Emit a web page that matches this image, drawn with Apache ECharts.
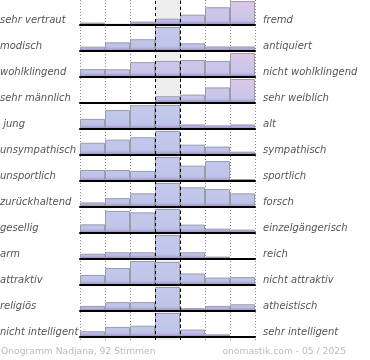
<!DOCTYPE html>
<html><head><meta charset="utf-8">
<script src="https://cdn.jsdelivr.net/npm/echarts@6/dist/echarts.min.js"></script>
<style>html,body{margin:0;padding:0;background:#fff}#c{width:370px;height:360px}</style>
</head><body><div id="c"></div>
<script>
const leftLabels = ['sehr vertraut','modisch','wohlklingend','sehr männlich',' jung','unsympathisch','unsportlich','zurückhaltend','gesellig','arm','attraktiv','religiös','nicht intelligent'];
const rightLabels = ['fremd','antiquiert','nicht wohlklingend','sehr weiblich','alt','sympathisch','sportlich','forsch','einzelgängerisch','reich','nicht attraktiv','atheistisch','sehr intelligent'];
const columns = ['1','2','3','4','5','6','7'];
const r0 = [10, 5, 14, 26, 43, 74, 100];
const r1 = [18, 36, 49, 100, 32, 19, 19];
const r2 = [33, 32, 62, 67, 71, 67, 100];
const r3 = [0, 0, 0, 28, 35, 65, 100];
const r4 = [42, 79, 99, 100, 19, 15, 19];
const r5 = [51, 64, 74, 100, 43, 35, 14];
const r6 = [46, 46, 42, 100, 64, 83, 8];
const r7 = [19, 37, 57, 100, 82, 75, 57];
const r8 = [36, 92, 86, 100, 35, 18, 14];
const r9 = [22, 28, 28, 100, 28, 10, 0];
const r10 = [42, 71, 100, 96, 48, 31, 33];
const r11 = [21, 37, 37, 100, 12, 21, 28];
const r12 = [24, 42, 47, 100, 31, 11, 0];
const rows = [r0,r1,r2,r3,r4,r5,r6,r7,r8,r9,r10,r11,r12];
const footerLeft = 'Onogramm Nadjana, 92 Stimmen';
const footerRight = 'onomastik.com - 05 / 2025';

// tint styling: 0 blue, 1 lavender, 2 pink
const tint = {0:[0,0,0,0,1,1,2], 2:[1,1,1,1,1,1,2], 3:[0,0,0,0,1,1,2]};
const topCols = ['#c3caec', '#d0c7ea', '#dfc7e8'];

const PL = 80, PW = 175, RH = 24, B0 = 25, STEP = 26;
const chart = echarts.init(document.getElementById('c'), null, {renderer:'canvas'});
const grids = [], xAxes = [], yAxes = [], series = [], graphics = [];
rows.forEach((vals, i) => {
  const base = B0 + STEP * i, top = base - RH;
  grids.push({left: PL, top: top, width: PW, height: RH});
  xAxes.push({type:'category', gridIndex:i, data:columns, axisLine:{show:true, lineStyle:{color:'#000', width:2}}, axisTick:{show:false}, axisLabel:{show:false}, splitLine:{show:false}, z:6});
  yAxes.push({type:'value', gridIndex:i, min:0, max:100, show:false});
  const tr = tint[i] || [0,0,0,0,0,0,0];
  series.push({
    type:'bar', xAxisIndex:i, yAxisIndex:i, barCategoryGap:'0%', z:3, silent:true,
    data: vals.map((v, j) => ({value:v, itemStyle:{
      color: new echarts.graphic.LinearGradient(0, top, 0, base, [
        {offset:0, color: topCols[tr[j]]},
        {offset:0.8, color: tr[j] ? '#c6c6ea' : '#bfc5e9'},
        {offset:0.88, color:'#b6b2df'},
        {offset:1, color:'#9484c2'}], true),
      borderColor:'#9c9ca4', borderWidth:1}}))
  });
  graphics.push({type:'text', left:0, top: base - 10, style:{text:leftLabels[i], font:'italic 10px "DejaVu Sans"', fill:'#555'}});
  graphics.push({type:'text', left:263, top: base - 10, style:{text:rightLabels[i], font:'italic 10px "DejaVu Sans"', fill:'#555'}});
});
// background grid for column guides
const bg = rows.length;
grids.push({left: PL, top: 0, width: PW, height: 340});
xAxes.push({type:'value', gridIndex:bg, min:0, max:7, interval:1, axisLine:{show:false}, axisTick:{show:false}, axisLabel:{show:false}, splitLine:{show:true, lineStyle:{color:'#888', type:[1,2], width:1}}});
yAxes.push({type:'value', gridIndex:bg, min:0, max:1, show:false});
series.push({type:'line', xAxisIndex:bg, yAxisIndex:bg, data:[], z:0, silent:true,
  markArea:{silent:true, itemStyle:{color:'#eeeeee'}, data:[[{xAxis:3},{xAxis:4}]]}});
series.push({type:'line', xAxisIndex:bg, yAxisIndex:bg, data:[], z:8, silent:true,
  markLine:{silent:true, symbol:'none', label:{show:false}, lineStyle:{color:'#000', type:[3,3], width:1}, data:[{xAxis:3},{xAxis:4}], animation:false}});
graphics.push({type:'text', left:1, top:347, style:{text:footerLeft, font:'9.2px "DejaVu Sans"', fill:'#bbb'}});
graphics.push({type:'text', right:24, top:347, style:{text:footerRight, font:'9.2px "DejaVu Sans"', fill:'#bbb'}});

chart.setOption({animation:false, grid:grids, xAxis:xAxes, yAxis:yAxes, series:series, graphic:graphics});
</script></body></html>
